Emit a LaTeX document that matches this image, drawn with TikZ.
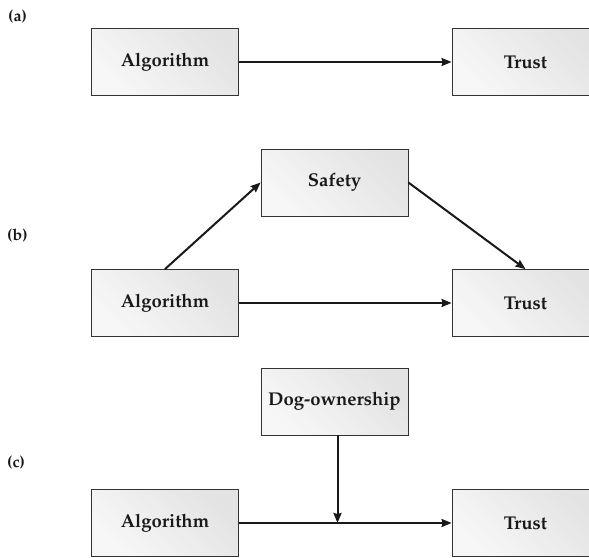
\documentclass[tikz,border=0pt]{standalone}
\usepackage[T1]{fontenc}
\usepackage{mathpazo}
\usetikzlibrary{arrows.meta}
\begin{document}
\begin{tikzpicture}[x=1pt,y=-1pt,
  box/.style={draw=black!80,line width=0.8pt,minimum width=147pt,minimum height=67pt,
    left color=black!3,right color=black!11,shading angle=135,inner sep=0pt,
    font=\fontfamily{ppl}\fontsize{18.5}{20}\selectfont\bfseries,text=black!90},
  conn/.style={draw=black!90,line width=2pt,-{Stealth[length=10pt,width=8pt,inset=1pt]}},
  lab/.style={font=\fontfamily{ppl}\fontsize{16}{18}\selectfont\bfseries,anchor=west,inner sep=0pt,text=black!90}]
\useasboundingbox (0,0) rectangle (589,557);
% labels
\node[lab] (la) at (8,17) {(a)};
\node[lab] (lb) at (7,236) {(b)};
\node[lab] (lc) at (7,463) {(c)};
% (a)
\node[box] (a1) at (165,62) {Algorithm};
\node[box] (a2) at (525.5,62) {Trust};
\draw[conn] (a1) -- (a2);
% (b)
\node[box] (b1) at (165,303) {Algorithm};
\node[box] (b2) at (525.5,303) {Trust};
\node[box] (bs) at (334.5,182.5) {Safety};
\draw[conn] (b1) -- (b2);
\draw[conn] (b1.north) -- (bs.west);
\draw[conn] (bs.east) -- (b2.north);
% (c)
\node[box] (c1) at (165,523) {Algorithm};
\node[box] (c2) at (525.5,523) {Trust};
\node[box] (cd) at (334.5,401.5) {Dog-ownership};
\draw[conn] (c1) -- (c2);
\coordinate (cs) at ([xshift=3pt]cd.south);
\coordinate (cm) at (cs |- c1.east);
\draw[conn] (cs) -- (cm);
\end{tikzpicture}
\end{document}
